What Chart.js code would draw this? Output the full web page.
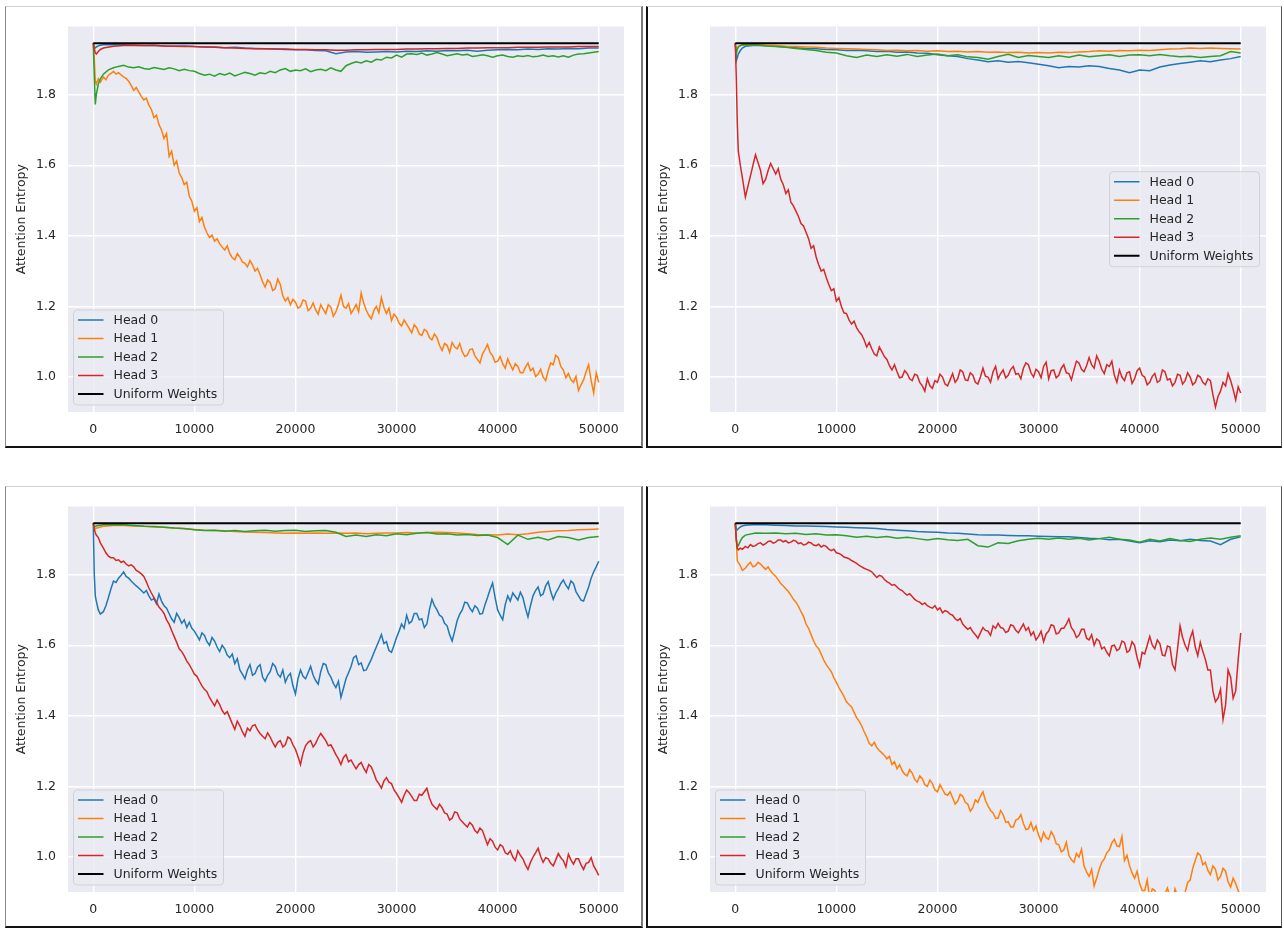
<!DOCTYPE html>
<html><head><meta charset="utf-8">
<script src="https://cdn.jsdelivr.net/npm/chart.js@4.4.0/dist/chart.umd.min.js"></script>
<style>
html,body{margin:0;padding:0;background:#fff;width:1284px;height:928px;overflow:hidden;}
.panel{position:absolute;box-sizing:border-box;border-top:1px solid #d0d0d0;}
canvas{position:absolute;}
</style></head><body>
<div class="panel" style="left:5px;top:6px;width:638px;height:442px;border-left:1px solid #8a8a8a;border-right:2px solid #7a7a7a;border-bottom:2px solid #111;"></div>
<div class="panel" style="left:646px;top:6px;width:636px;height:442px;border-left:2px solid #111;border-right:1px solid #555;border-bottom:2px solid #111;"></div>
<div class="panel" style="left:5px;top:486px;width:638px;height:442px;border-left:1px solid #8a8a8a;border-right:2px solid #7a7a7a;border-bottom:2px solid #111;"></div>
<div class="panel" style="left:646px;top:486px;width:636px;height:442px;border-left:2px solid #111;border-right:1px solid #555;border-bottom:2px solid #111;"></div>
<canvas id="c1" width="634" height="438" style="left:6px;top:7px"></canvas>
<canvas id="c2" width="632" height="438" style="left:648px;top:7px"></canvas>
<canvas id="c3" width="634" height="438" style="left:6px;top:487px"></canvas>
<canvas id="c4" width="632" height="438" style="left:648px;top:487px"></canvas>
<script>
// ---------- data ----------
const stepsDense = [0,100,200,300,500,700,
1000,1250,1500,1750, 2000,2250,2500,2750, 3000,3250,3500,3750, 4000,4250,4500,4750,
5000,5250,5500,5750, 6000,6250,6500,6750, 7000,7250,7500,7750, 8000,8250,8500,8750,
9000,9250,9500,9750, 10000,10250,10500,10750, 11000,11250,11500,11750, 12000,12250,12500,12750,
13000,13250,13500,13750, 14000,14250,14500,14750, 15000,15250,15500,15750, 16000,16250,16500,16750,
17000,17250,17500,17750, 18000,18250,18500,18750, 19000,19250,19500,19750, 20000,20250,20500,20750,
21000,21250,21500,21750, 22000,22250,22500,22750, 23000,23250,23500,23750, 24000,24250,24500,24750,
25000,25250,25500,25750, 26000,26250,26500,26750, 27000,27250,27500,27750, 28000,28250,28500,28750,
29000,29250,29500,29750, 30000,30250,30500,30750, 31000,31250,31500,31750, 32000,32250,32500,32750,
33000,33250,33500,33750, 34000,34250,34500,34750, 35000,35250,35500,35750, 36000,36250,36500,36750,
37000,37250,37500,37750, 38000,38250,38500,38750, 39000,39250,39500,39750, 40000,40250,40500,40750,
41000,41250,41500,41750, 42000,42250,42500,42750, 43000,43250,43500,43750, 44000,44250,44500,44750,
45000,45250,45500,45750, 46000,46250,46500,46750, 47000,47250,47500,47750, 48000,48250,48500,48750,
49000,49250,49500,49750, 50000];

const stepsFine = [0,100,200,300,500,700,
1000,1500,2000,2500,3000,3500,4000,4500,5000,5500,
6000,6500,7000,7500,8000,8500,9000,9500,10000,10500,
11000,11500,12000,12500,13000,13500,14000,14500,15000,15500,
16000,16500,17000,17500,18000,18500,19000,19500,20000,20500,
21000,21500,22000,22500,23000,23500,24000,24500,25000,25500,
26000,26500,27000,27500,28000,28500,29000,29500,30000,30500,
31000,31500,32000,32500,33000,33500,34000,34500,35000,35500,
36000,36500,37000,37500,38000,38500,39000,39500,40000,40500,
41000,41500,42000,42500,43000,43500,44000,44500,45000,45500,
46000,46500,47000,47500,48000,48500,49000,49500,50000];

const stepsCoarse = [0,100,200,300,500,700,
1000,2000,3000,4000,5000,6000,7000,8000,9000,10000,
11000,12000,13000,14000,15000,16000,17000,18000,19000,20000,
21000,22000,23000,24000,25000,26000,27000,28000,29000,30000,
31000,32000,33000,34000,35000,36000,37000,38000,39000,40000,
41000,42000,43000,44000,45000,46000,47000,48000,49000,50000];

const uniformSteps = [0, 50000];
const uniformEntropy = [1.9459, 1.9459];
const xTicks = [0, 10000, 20000, 30000, 40000, 50000];
const yTicks = [1.0, 1.2, 1.4, 1.6, 1.8];
const seriesLabels = ['Head 0', 'Head 1', 'Head 2', 'Head 3', 'Uniform Weights'];
const yAxisTitle = 'Attention Entropy';

// Panel A (top left)
const A_head0 = [1.946,1.935,1.932,1.935,1.938,1.940,
1.941,1.942,1.941,1.940,1.939,1.940,1.938,1.937,1.938,1.936,
1.935,1.935,1.933,1.934,1.932,1.931,1.930,1.929,1.928,1.927,
1.927,1.925,1.924,1.916,1.921,1.922,1.920,1.921,1.922,1.921,
1.923,1.922,1.924,1.923,1.925,1.924,1.926,1.923,1.926,1.927,
1.928,1.927,1.929,1.928,1.930,1.929,1.931,1.930,1.932,1.932];
const A_head1 = [1.946,1.900,1.840,1.830,1.845,1.835,
1.850,1.842,1.855,1.860, 1.866,1.858,1.862,1.856, 1.850,1.846,1.838,1.826, 1.812,1.820,1.808,1.795,
1.785,1.790,1.770,1.758, 1.735,1.742,1.715,1.700, 1.676,1.690,1.625,1.640, 1.600,1.612,1.578,1.565,
1.545,1.552,1.512,1.498, 1.470,1.480,1.440,1.452, 1.425,1.408,1.395,1.402, 1.385,1.392,1.378,1.368,
1.360,1.372,1.350,1.338, 1.332,1.350,1.340,1.326, 1.322,1.312,1.330,1.318, 1.300,1.308,1.290,1.270,
1.255,1.275,1.268,1.245, 1.250,1.278,1.262,1.230, 1.215,1.225,1.205,1.220, 1.212,1.195,1.200,1.218,
1.215,1.188,1.195,1.210, 1.190,1.178,1.205,1.192, 1.180,1.205,1.198,1.172, 1.185,1.205,1.232,1.200,
1.195,1.208,1.180,1.192, 1.205,1.185,1.238,1.210, 1.190,1.175,1.165,1.188, 1.200,1.182,1.225,1.198,
1.180,1.195,1.160,1.178, 1.170,1.152,1.145,1.162, 1.150,1.138,1.125,1.148, 1.140,1.122,1.118,1.135,
1.130,1.112,1.105,1.122, 1.112,1.090,1.075,1.095, 1.090,1.070,1.098,1.085, 1.080,1.095,1.072,1.058,
1.062,1.078,1.080,1.060, 1.050,1.040,1.065,1.078, 1.092,1.070,1.060,1.042, 1.045,1.058,1.038,1.025,
1.052,1.035,1.020,1.038, 1.030,1.012,1.012,1.028, 1.040,1.018,1.025,1.002, 1.008,1.022,1.000,0.990,
1.018,1.040,1.035,1.062, 1.055,1.030,1.020,0.998, 1.010,0.992,0.985,1.002, 0.962,0.978,0.992,1.015,
1.035,0.990,0.955,1.012, 0.985];
const A_head2 = [1.946,1.850,1.772,1.800,1.830,1.845,
1.858,1.870,1.876,1.880,1.883,1.878,1.876,1.879,1.874,1.872,
1.877,1.874,1.871,1.876,1.873,1.868,1.872,1.868,1.866,1.860,
1.855,1.858,1.852,1.860,1.856,1.861,1.853,1.858,1.863,1.860,
1.855,1.862,1.859,1.866,1.862,1.870,1.874,1.866,1.870,1.868,
1.873,1.865,1.870,1.872,1.868,1.876,1.870,1.866,1.882,1.888,
1.893,1.890,1.896,1.892,1.900,1.898,1.906,1.904,1.912,1.906,
1.915,1.916,1.914,1.918,1.912,1.915,1.919,1.915,1.910,1.913,
1.916,1.912,1.914,1.908,1.910,1.913,1.910,1.906,1.910,1.912,
1.908,1.906,1.910,1.908,1.911,1.907,1.909,1.912,1.908,1.910,
1.907,1.910,1.906,1.912,1.915,1.916,1.918,1.920,1.922];
const A_head3 = [1.946,1.930,1.918,1.915,1.922,1.928,
1.932,1.937,1.939,1.940,1.939,1.939,1.938,1.937,1.936,1.936,
1.935,1.934,1.933,1.932,1.931,1.930,1.930,1.929,1.929,1.928,
1.928,1.927,1.927,1.926,1.926,1.927,1.927,1.928,1.928,1.928,
1.929,1.929,1.930,1.930,1.931,1.931,1.932,1.932,1.933,1.933,
1.933,1.934,1.934,1.934,1.935,1.935,1.935,1.936,1.936,1.936];

// Panel B (top right)
const B_head0 = [1.946,1.895,1.905,1.915,1.925,1.932,
1.937,1.940,1.939,1.937,1.935,1.933,1.931,1.930,1.928,1.927,
1.925,1.926,1.924,1.922,1.923,1.920,1.921,1.918,1.917,1.913,
1.910,1.908,1.902,1.898,1.893,1.896,1.892,1.894,1.890,1.886,
1.882,1.876,1.880,1.878,1.882,1.880,1.874,1.870,1.862,1.870,
1.868,1.878,1.884,1.888,1.892,1.896,1.893,1.898,1.902,1.908];
const B_head1 = [1.946,1.925,1.932,1.936,1.939,1.940,
1.941,1.941,1.940,1.939,1.937,1.936,1.935,1.934,1.932,1.931,
1.930,1.929,1.928,1.927,1.925,1.926,1.924,1.925,1.923,1.924,
1.922,1.923,1.921,1.922,1.920,1.921,1.919,1.920,1.918,1.919,
1.918,1.920,1.919,1.921,1.922,1.924,1.923,1.925,1.924,1.926,
1.925,1.927,1.929,1.930,1.932,1.931,1.932,1.931,1.930,1.929];
const B_head2 = [1.946,1.915,1.928,1.935,1.939,1.941,
1.942,1.941,1.938,1.936,1.934,1.931,1.928,1.925,1.920,1.918,
1.910,1.905,1.912,1.908,1.913,1.909,1.914,1.908,1.912,1.915,
1.910,1.913,1.907,1.905,1.900,1.908,1.914,1.905,1.911,1.908,
1.905,1.910,1.906,1.912,1.907,1.910,1.913,1.908,1.912,1.913,
1.910,1.914,1.910,1.907,1.909,1.905,1.908,1.910,1.922,1.918];
const B_head3 = [1.946,1.850,1.720,1.640,1.600,1.565,
1.510,1.540,1.570,1.600, 1.630,1.608,1.585,1.548, 1.560,1.585,1.605,1.590, 1.575,1.590,1.560,1.545,
1.520,1.530,1.495,1.485, 1.470,1.455,1.435,1.428, 1.410,1.392,1.365,1.372, 1.340,1.318,1.300,1.305,
1.282,1.262,1.245,1.250, 1.215,1.225,1.200,1.182, 1.180,1.162,1.150,1.158, 1.140,1.128,1.120,1.105,
1.085,1.098,1.080,1.065, 1.060,1.085,1.072,1.058, 1.050,1.032,1.020,1.035, 1.015,0.998,1.000,1.018,
1.010,0.995,0.990,1.008, 1.005,0.985,0.975,0.960, 0.995,0.975,0.968,0.990, 0.985,1.008,1.000,0.980,
0.975,0.992,1.010,0.985, 0.995,1.020,1.015,0.992, 0.990,1.012,1.005,0.985, 0.980,1.000,1.025,1.002,
1.000,0.985,1.015,1.030, 0.995,1.010,1.020,0.998, 1.005,1.022,1.030,1.008, 1.010,0.995,1.025,1.040,
1.035,1.012,1.000,1.022, 1.015,0.998,1.030,1.042, 0.995,1.018,1.020,0.998, 1.005,1.025,1.035,1.012,
1.010,0.992,1.020,1.045, 1.040,1.022,1.015,1.032, 1.055,1.035,1.025,1.060, 1.045,1.022,1.010,1.035,
1.030,1.045,1.005,0.985, 1.020,1.000,0.990,1.012, 1.015,0.982,0.995,1.018, 1.025,1.005,1.000,0.978,
0.985,1.002,1.010,0.985, 0.990,1.020,1.015,0.992, 0.995,0.975,0.985,1.008, 1.005,0.980,0.990,1.012,
1.000,0.978,0.985,1.005, 1.000,0.985,0.978,0.995, 0.990,0.950,0.915,0.945, 0.960,0.985,0.975,1.010,
0.990,0.965,0.935,0.972, 0.955];

// Panel C (bottom left)
const C_head0 = [1.946,1.800,1.740,1.725,1.700,1.688,
1.695,1.712,1.735,1.760, 1.782,1.778,1.790,1.798, 1.808,1.795,1.790,1.782, 1.775,1.768,1.762,1.755,
1.748,1.755,1.740,1.728, 1.732,1.718,1.745,1.725, 1.712,1.705,1.690,1.675, 1.665,1.690,1.678,1.662,
1.672,1.650,1.665,1.648, 1.640,1.628,1.615,1.635, 1.628,1.610,1.600,1.622, 1.612,1.595,1.582,1.600,
1.590,1.572,1.565,1.575, 1.548,1.562,1.530,1.518, 1.505,1.530,1.545,1.515, 1.520,1.538,1.545,1.510,
1.498,1.515,1.525,1.548, 1.540,1.518,1.510,1.530, 1.495,1.512,1.520,1.485, 1.462,1.505,1.530,1.512,
1.505,1.522,1.540,1.515, 1.500,1.490,1.525,1.548, 1.545,1.522,1.510,1.492, 1.480,1.498,1.452,1.478,
1.505,1.522,1.540,1.565, 1.570,1.545,1.550,1.528, 1.530,1.545,1.560,1.578, 1.595,1.612,1.630,1.605,
1.610,1.585,1.580,1.600, 1.622,1.640,1.660,1.648, 1.685,1.662,1.668,1.690, 1.690,1.672,1.675,1.650,
1.660,1.700,1.730,1.712, 1.700,1.685,1.680,1.662, 1.655,1.630,1.612,1.640, 1.670,1.688,1.700,1.722,
1.720,1.705,1.695,1.712, 1.705,1.688,1.690,1.715, 1.735,1.758,1.776,1.735, 1.700,1.685,1.672,1.715,
1.740,1.725,1.748,1.738, 1.728,1.750,1.735,1.705, 1.680,1.712,1.740,1.755, 1.765,1.740,1.745,1.768,
1.780,1.752,1.730,1.748, 1.760,1.775,1.785,1.770, 1.760,1.782,1.775,1.752, 1.740,1.728,1.725,1.745,
1.765,1.790,1.808,1.822, 1.838];
const C_head1 = [1.946,1.930,1.930,1.932,1.933,1.935,
1.937,1.939,1.939,1.938,1.937,1.935,1.934,1.932,1.930,1.928,
1.926,1.925,1.924,1.922,1.921,1.920,1.919,1.918,1.917,1.918,
1.917,1.918,1.917,1.918,1.917,1.918,1.916,1.917,1.918,1.918,
1.919,1.918,1.919,1.920,1.919,1.918,1.916,1.914,1.913,1.912,
1.915,1.913,1.916,1.920,1.922,1.924,1.925,1.927,1.928,1.929];
const C_head2 = [1.946,1.935,1.936,1.938,1.939,1.940,
1.941,1.942,1.941,1.939,1.937,1.936,1.934,1.932,1.931,1.927,
1.925,1.926,1.923,1.925,1.922,1.924,1.926,1.923,1.925,1.926,
1.922,1.924,1.925,1.920,1.908,1.912,1.908,1.913,1.910,1.916,
1.913,1.917,1.919,1.915,1.916,1.912,1.914,1.911,1.912,1.905,
1.885,1.912,1.900,1.906,1.898,1.908,1.905,1.898,1.905,1.908];
const C_head3 = [1.946,1.930,1.918,1.912,1.905,1.890,
1.875,1.862,1.852,1.848, 1.848,1.840,1.842,1.835, 1.838,1.830,1.825,1.828, 1.822,1.812,1.808,1.802,
1.795,1.780,1.762,1.748, 1.735,1.722,1.708,1.700, 1.690,1.672,1.660,1.642, 1.625,1.608,1.590,1.582,
1.570,1.555,1.545,1.532, 1.518,1.512,1.498,1.485, 1.475,1.468,1.452,1.440, 1.428,1.445,1.432,1.415,
1.405,1.412,1.395,1.378, 1.362,1.385,1.372,1.355, 1.342,1.365,1.358,1.372, 1.375,1.360,1.350,1.342,
1.335,1.352,1.340,1.325, 1.312,1.325,1.330,1.312, 1.318,1.340,1.335,1.318, 1.305,1.285,1.262,1.295,
1.315,1.325,1.330,1.312, 1.322,1.338,1.350,1.340, 1.330,1.315,1.318,1.305, 1.290,1.278,1.262,1.282,
1.290,1.270,1.275,1.262, 1.250,1.262,1.268,1.252, 1.240,1.262,1.255,1.238, 1.218,1.208,1.195,1.215,
1.225,1.212,1.208,1.190, 1.180,1.168,1.155,1.175, 1.190,1.182,1.172,1.160, 1.160,1.178,1.175,1.185,
1.195,1.168,1.150,1.142, 1.135,1.150,1.140,1.125, 1.122,1.105,1.110,1.128, 1.125,1.108,1.100,1.092,
1.085,1.098,1.090,1.075, 1.068,1.082,1.075,1.055, 1.035,1.052,1.045,1.028, 1.020,1.035,1.030,1.012,
1.008,1.018,1.000,0.990, 1.018,1.005,0.995,0.978, 0.965,0.985,1.000,1.012, 1.025,1.002,0.985,0.998,
0.995,0.982,0.975,0.992, 1.010,0.998,0.990,0.972, 1.008,0.992,0.980,0.995, 0.995,0.978,0.965,0.982,
0.985,0.998,0.975,0.962, 0.948];

// Panel D (bottom right)
const D_head0 = [1.946,1.930,1.927,1.930,1.935,1.938,
1.940,1.942,1.941,1.940,1.939,1.938,1.938,1.937,1.936,1.935,
1.934,1.933,1.932,1.931,1.928,1.926,1.924,1.922,1.921,1.920,
1.918,1.917,1.915,1.913,1.912,1.912,1.911,1.910,1.910,1.909,
1.908,1.907,1.907,1.905,1.903,1.902,1.899,1.900,1.895,1.890,
1.896,1.893,1.898,1.896,1.900,1.897,1.895,1.885,1.900,1.907];
const D_head1 = [1.946,1.900,1.840,1.835,1.825,1.812,
1.818,1.828,1.835,1.822, 1.825,1.835,1.830,1.822, 1.815,1.822,1.810,1.802, 1.795,1.785,1.775,1.768,
1.760,1.752,1.742,1.730, 1.722,1.710,1.695,1.682, 1.660,1.648,1.630,1.612, 1.598,1.590,1.575,1.558,
1.545,1.535,1.525,1.508, 1.495,1.480,1.468,1.455, 1.440,1.432,1.425,1.410, 1.395,1.385,1.372,1.355,
1.340,1.322,1.315,1.325, 1.310,1.302,1.295,1.288, 1.278,1.285,1.262,1.270, 1.250,1.262,1.245,1.235,
1.230,1.248,1.238,1.220, 1.212,1.230,1.222,1.205, 1.200,1.218,1.208,1.190, 1.185,1.205,1.192,1.178,
1.175,1.185,1.168,1.150, 1.158,1.178,1.172,1.155, 1.150,1.130,1.140,1.162, 1.155,1.172,1.185,1.160,
1.145,1.132,1.125,1.110, 1.110,1.132,1.120,1.098, 1.100,1.085,1.085,1.105, 1.108,1.120,1.095,1.078,
1.080,1.098,1.075,1.088, 1.062,1.045,1.070,1.055, 1.050,1.072,1.060,1.038, 1.035,1.015,1.020,1.042,
1.005,0.992,0.985,1.010, 1.000,1.022,0.975,0.958, 0.945,0.965,0.918,0.940, 0.965,0.985,0.995,1.012,
1.020,1.040,1.050,1.032, 1.030,1.058,0.990,1.005, 0.975,0.955,0.940,0.960, 0.925,0.905,0.905,0.935,
0.880,0.910,0.905,0.885, 0.870,0.898,0.895,0.912, 0.885,0.868,0.910,0.890, 0.870,0.895,0.900,0.928,
0.935,0.968,0.990,1.012, 1.005,0.978,0.985,0.962, 0.950,0.975,0.965,0.935, 0.945,0.968,0.960,0.930,
0.915,0.940,0.925,0.905, 0.890];
const D_head2 = [1.946,1.900,1.880,1.882,1.895,1.905,
1.912,1.918,1.917,1.918,1.916,1.917,1.914,1.916,1.912,1.913,
1.910,1.906,1.909,1.905,1.908,1.903,1.906,1.902,1.898,1.902,
1.899,1.897,1.900,1.882,1.878,1.890,1.888,1.896,1.900,1.903,
1.900,1.904,1.900,1.903,1.898,1.902,1.906,1.900,1.898,1.892,
1.900,1.895,1.902,1.897,1.894,1.900,1.904,1.900,1.906,1.910];
const D_head3 = [1.946,1.900,1.875,1.870,1.875,1.872,
1.880,1.876,1.885,1.880, 1.882,1.888,1.890,1.884, 1.888,1.894,1.895,1.889, 1.892,1.898,1.898,1.893,
1.896,1.890,1.892,1.897, 1.895,1.888,1.890,1.884, 1.886,1.892,1.890,1.884, 1.882,1.886,1.878,1.883,
1.880,1.872,1.868,1.872, 1.862,1.860,1.856,1.850, 1.848,1.845,1.840,1.836, 1.832,1.826,1.822,1.818,
1.815,1.812,1.808,1.800, 1.792,1.798,1.795,1.786, 1.780,1.776,1.770,1.772, 1.765,1.758,1.755,1.748,
1.742,1.746,1.738,1.730, 1.725,1.722,1.715,1.720, 1.712,1.708,1.705,1.712, 1.700,1.706,1.692,1.698,
1.695,1.688,1.685,1.675, 1.670,1.676,1.660,1.652, 1.645,1.650,1.638,1.630, 1.620,1.635,1.650,1.642,
1.640,1.628,1.655,1.648, 1.662,1.650,1.648,1.636, 1.640,1.658,1.655,1.642, 1.635,1.648,1.660,1.642,
1.650,1.628,1.638,1.615, 1.625,1.640,1.610,1.632, 1.640,1.658,1.655,1.632, 1.635,1.648,1.648,1.660,
1.675,1.650,1.640,1.622, 1.628,1.645,1.645,1.620, 1.615,1.630,1.600,1.618, 1.612,1.590,1.595,1.580,
1.570,1.598,1.600,1.585, 1.590,1.612,1.608,1.580, 1.585,1.610,1.600,1.565, 1.540,1.580,1.575,1.600,
1.625,1.600,1.590,1.615, 1.605,1.572,1.570,1.598, 1.595,1.545,1.530,1.590, 1.655,1.622,1.600,1.585,
1.620,1.640,1.595,1.570, 1.608,1.582,1.560,1.530, 1.530,1.470,1.440,1.450, 1.475,1.390,1.430,1.530,
1.510,1.450,1.470,1.560, 1.635];

// ---------- drawing ----------
const COLORS = ['#1f77b4', '#ff7f0e', '#2ca02c', '#d62728', '#000000'];
const TEXT = '#262626';
const FONT = 'DejaVu Sans';
const FS = 12.5;
Chart.defaults.font.family = FONT;
Chart.defaults.font.size = FS;
Chart.defaults.color = TEXT;

function pts(xs, ys) { return xs.map((x, i) => ({x: x, y: ys[i]})); }

const bgPlugin = {
  id: 'axbg',
  beforeDraw(chart) {
    const {ctx, chartArea: a} = chart;
    ctx.save();
    ctx.fillStyle = '#EAEAF2';
    ctx.fillRect(a.left, a.top, a.right - a.left, a.bottom - a.top);
    ctx.restore();
  }
};

const legendPlugin = {
  id: 'mplLegend',
  afterDraw(chart, args, opts) {
    const {ctx, chartArea: a} = chart;
    const w = 150, h = 95;
    let x0, y0;
    if (opts.loc === 'center right') { x0 = a.right - 6.5 - w; y0 = (a.top + a.bottom) / 2 - h / 2; }
    else { x0 = a.left + 5.5; y0 = a.bottom - 7 - h; }
    ctx.save();
    const r = 3.5;
    ctx.beginPath();
    ctx.moveTo(x0 + r, y0);
    ctx.lineTo(x0 + w - r, y0); ctx.arcTo(x0 + w, y0, x0 + w, y0 + r, r);
    ctx.lineTo(x0 + w, y0 + h - r); ctx.arcTo(x0 + w, y0 + h, x0 + w - r, y0 + h, r);
    ctx.lineTo(x0 + r, y0 + h); ctx.arcTo(x0, y0 + h, x0, y0 + h - r, r);
    ctx.lineTo(x0, y0 + r); ctx.arcTo(x0, y0, x0 + r, y0, r);
    ctx.closePath();
    ctx.fillStyle = 'rgba(234,234,242,0.8)';
    ctx.fill();
    ctx.strokeStyle = 'rgba(204,204,204,0.8)';
    ctx.lineWidth = 1;
    ctx.stroke();
    ctx.font = FS + 'px "' + FONT + '"';
    ctx.textBaseline = 'middle';
    ctx.textAlign = 'left';
    chart.data.datasets.forEach((ds, i) => {
      const cy = y0 + 10 + i * 18.5;
      ctx.beginPath();
      ctx.strokeStyle = ds.borderColor;
      ctx.lineWidth = ds.borderWidth;
      ctx.moveTo(x0 + 4.5, cy);
      ctx.lineTo(x0 + 30, cy);
      ctx.stroke();
      ctx.fillStyle = TEXT;
      ctx.fillText(ds.label, x0 + 40, cy + 0.5);
    });
    ctx.restore();
  }
};

const panels = [
  {id: 'c1', canvas: [6, 7, 634, 438], area: [68, 25, 556, 387], loc: 'lower left',
   series: [[stepsCoarse, A_head0], [stepsDense, A_head1], [stepsFine, A_head2], [stepsCoarse, A_head3]]},
  {id: 'c2', canvas: [648, 7, 632, 438], area: [710, 25, 556, 387], loc: 'center right',
   series: [[stepsCoarse, B_head0], [stepsCoarse, B_head1], [stepsCoarse, B_head2], [stepsDense, B_head3]]},
  {id: 'c3', canvas: [6, 487, 634, 438], area: [68, 505, 556, 387], loc: 'lower left',
   series: [[stepsDense, C_head0], [stepsCoarse, C_head1], [stepsCoarse, C_head2], [stepsDense, C_head3]]},
  {id: 'c4', canvas: [648, 487, 632, 438], area: [710, 505, 556, 387], loc: 'lower left',
   series: [[stepsCoarse, D_head0], [stepsDense, D_head1], [stepsCoarse, D_head2], [stepsDense, D_head3]]}
];

panels.forEach(p => {
  const [cx, cy, cw, ch] = p.canvas;
  const [ax, ay, aw, ah] = p.area;
  const yAxisW = ax - cx;
  const padTop = ay - cy;
  const padRight = (cx + cw) - (ax + aw);
  const xAxisH = (cy + ch) - (ay + ah);
  const datasets = p.series.map((s, i) => ({
    label: seriesLabels[i],
    data: pts(s[0], s[1]),
    borderColor: COLORS[i],
    borderWidth: 1.5,
    order: 4 - i
  }));
  datasets.push({
    label: seriesLabels[4],
    data: pts(uniformSteps, uniformEntropy),
    borderColor: COLORS[4],
    borderWidth: 2,
    order: 0
  });
  datasets.forEach(d => { d.pointRadius = 0; d.tension = 0; d.fill = false; d.clip = 0; });
  new Chart(document.getElementById(p.id), {
    type: 'line',
    data: {datasets},
    options: {
      responsive: false, animation: false, devicePixelRatio: 1,
      layout: {padding: {left: 0, top: padTop, right: padRight, bottom: 0}},
      plugins: {legend: {display: false}, tooltip: {enabled: false}, mplLegend: {loc: p.loc}},
      scales: {
        x: {
          type: 'linear', min: -2500, max: 52500,
          afterBuildTicks: s => { s.ticks = xTicks.map(v => ({value: v})); },
          afterFit: s => { s.height = xAxisH; },
          grid: {color: '#ffffff', lineWidth: 1.4, drawTicks: false},
          border: {display: false},
          ticks: {padding: 10, color: TEXT, font: {family: FONT, size: FS}, maxRotation: 0, autoSkip: false,
                  callback: v => String(v)}
        },
        y: {
          type: 'linear', min: 0.901, max: 1.993,
          afterBuildTicks: s => { s.ticks = yTicks.map(v => ({value: v})); },
          afterFit: s => { s.width = yAxisW; },
          grid: {color: '#ffffff', lineWidth: 1.4, drawTicks: false},
          border: {display: false},
          title: {display: true, text: yAxisTitle, color: TEXT, font: {family: FONT, size: FS}, padding: {top: 8.5, bottom: 0}},
          ticks: {padding: 12, color: TEXT, font: {family: FONT, size: FS}, callback: v => Number(v).toFixed(1)}
        }
      }
    },
    plugins: [bgPlugin, legendPlugin]
  });
});
</script>
</body></html>
